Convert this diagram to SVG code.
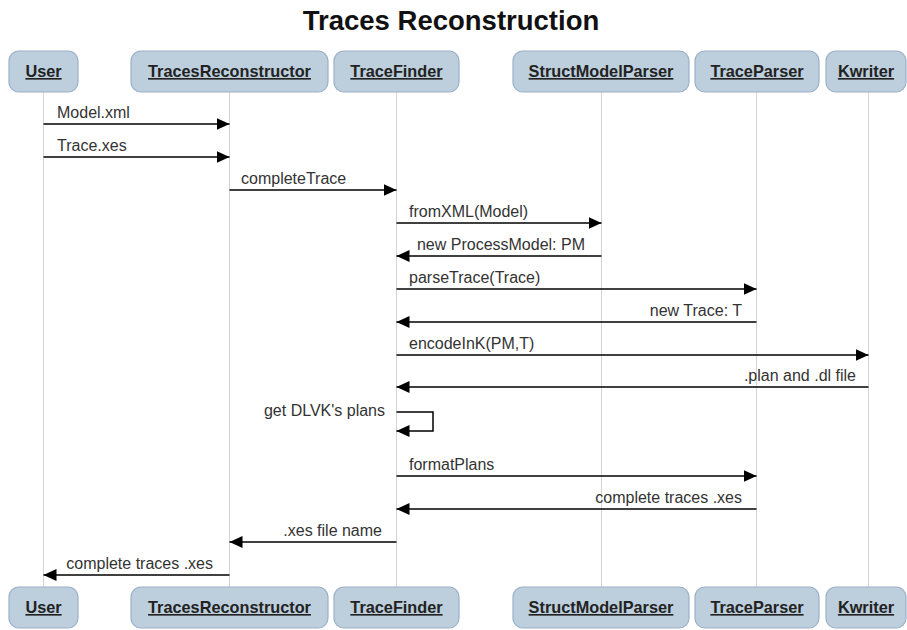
<svg xmlns="http://www.w3.org/2000/svg" width="907" height="630" viewBox="0 0 907 630">
<defs>
<marker id="ah" markerUnits="userSpaceOnUse" markerWidth="14" markerHeight="13" refX="13" refY="6" orient="auto">
<path d="M0,0 L13,6 L0,12 z" fill="#000"/>
</marker>
<style>
.box{fill:#bdcfdd;stroke:#9bb0c9;stroke-width:1.2}
.bt{font-family:"Liberation Sans",Arial,sans-serif;font-size:16.3px;font-weight:bold;fill:#222;text-decoration:underline;text-anchor:middle}
.life{stroke:#d4d4d4;stroke-width:1}
.msg{stroke:#000;stroke-width:1.5;fill:none;marker-end:url(#ah)}
.ml{font-family:"Liberation Sans",Arial,sans-serif;font-size:16px;fill:#333}
.r{text-anchor:end}
.title{font-family:"Liberation Sans",Arial,sans-serif;font-size:27.5px;font-weight:bold;fill:#111;text-anchor:middle}
</style>
</defs>
<rect width="907" height="630" fill="#fff"/>
<text class="title" x="451" y="30">Traces Reconstruction</text>
<g id="lifelines">
<line class="life" x1="43.5" y1="92" x2="43.5" y2="587"/>
<line class="life" x1="229.5" y1="92" x2="229.5" y2="587"/>
<line class="life" x1="396.5" y1="92" x2="396.5" y2="587"/>
<line class="life" x1="601.5" y1="92" x2="601.5" y2="587"/>
<line class="life" x1="756.5" y1="92" x2="756.5" y2="587"/>
<line class="life" x1="868.5" y1="92" x2="868.5" y2="587"/>
</g>
<g id="User">
<rect class="box" x="9" y="51" width="69" height="41" rx="10"/>
<text class="bt" x="43.5" y="77">User</text>
<rect class="box" x="9" y="587" width="69" height="41" rx="10"/>
<text class="bt" x="43.5" y="613">User</text>
</g>
<g id="TracesReconstructor">
<rect class="box" x="131" y="51" width="197" height="41" rx="10"/>
<text class="bt" x="229.5" y="77">TracesReconstructor</text>
<rect class="box" x="131" y="587" width="197" height="41" rx="10"/>
<text class="bt" x="229.5" y="613">TracesReconstructor</text>
</g>
<g id="TraceFinder">
<rect class="box" x="334" y="51" width="125" height="41" rx="10"/>
<text class="bt" x="396.5" y="77">TraceFinder</text>
<rect class="box" x="334" y="587" width="125" height="41" rx="10"/>
<text class="bt" x="396.5" y="613">TraceFinder</text>
</g>
<g id="StructModelParser">
<rect class="box" x="513" y="51" width="176" height="41" rx="10"/>
<text class="bt" x="601" y="77">StructModelParser</text>
<rect class="box" x="513" y="587" width="176" height="41" rx="10"/>
<text class="bt" x="601" y="613">StructModelParser</text>
</g>
<g id="TraceParser">
<rect class="box" x="695" y="51" width="124" height="41" rx="10"/>
<text class="bt" x="757" y="77">TraceParser</text>
<rect class="box" x="695" y="587" width="124" height="41" rx="10"/>
<text class="bt" x="757" y="613">TraceParser</text>
</g>
<g id="Kwriter">
<rect class="box" x="826" y="51" width="80" height="41" rx="10"/>
<text class="bt" x="866" y="77">Kwriter</text>
<rect class="box" x="826" y="587" width="80" height="41" rx="10"/>
<text class="bt" x="866" y="613">Kwriter</text>
</g>
<g id="connectors">
<line class="msg" x1="43.5" y1="124" x2="229.5" y2="124"/>
<text class="ml" x="57" y="118">Model.xml</text>
<line class="msg" x1="43.5" y1="157" x2="229.5" y2="157"/>
<text class="ml" x="57" y="151">Trace.xes</text>
<line class="msg" x1="229.5" y1="190" x2="396.5" y2="190"/>
<text class="ml" x="241" y="184">completeTrace</text>
<line class="msg" x1="396.5" y1="223" x2="601.5" y2="223"/>
<text class="ml" x="409" y="217">fromXML(Model)</text>
<line class="msg" x1="601.5" y1="256" x2="396.5" y2="256"/>
<text class="ml r" x="585" y="250">new ProcessModel: PM</text>
<line class="msg" x1="396.5" y1="289" x2="756.5" y2="289"/>
<text class="ml" x="409" y="283">parseTrace(Trace)</text>
<line class="msg" x1="756.5" y1="322" x2="396.5" y2="322"/>
<text class="ml r" x="742" y="316">new Trace: T</text>
<line class="msg" x1="396.5" y1="355" x2="868.5" y2="355"/>
<text class="ml" x="409" y="349">encodeInK(PM,T)</text>
<line class="msg" x1="868.5" y1="387" x2="396.5" y2="387"/>
<text class="ml r" x="856" y="381">.plan and .dl file</text>
<polyline class="msg" points="396.5,412 433,412 433,431 396.5,431"/>
<text class="ml r" x="385" y="416">get DLVK's plans</text>
<line class="msg" x1="396.5" y1="476" x2="756.5" y2="476"/>
<text class="ml" x="409" y="470">formatPlans</text>
<line class="msg" x1="756.5" y1="509" x2="396.5" y2="509"/>
<text class="ml r" x="742" y="503">complete traces .xes</text>
<line class="msg" x1="396.5" y1="542" x2="229.5" y2="542"/>
<text class="ml r" x="382" y="536">.xes file name</text>
<line class="msg" x1="229.5" y1="575" x2="43.5" y2="575"/>
<text class="ml r" x="213" y="569">complete traces .xes</text>
</g>
</svg>
